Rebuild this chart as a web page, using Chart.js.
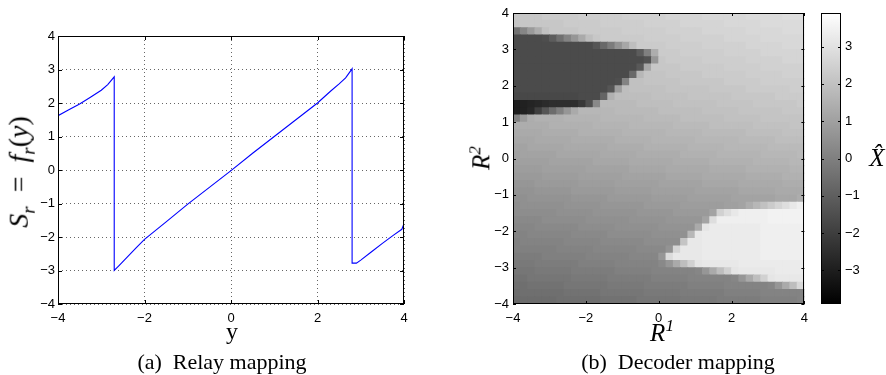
<!DOCTYPE html>
<html>
<head>
<meta charset="utf-8">
<script src="https://cdn.jsdelivr.net/npm/chart.js@4.4.0/dist/chart.umd.min.js"></script>
<style>
  html, body { margin: 0; padding: 0; background: #fff; }
  body { width: 886px; height: 375px; position: relative; overflow: hidden; font-family: "Liberation Serif", "Times New Roman", serif; color: #000; }
  canvas { position: absolute; top: 0; }
  .lbl { position: absolute; transform: translate(-50%, -50%); white-space: nowrap; line-height: 1; }
  .rot { transform: translate(-50%, -50%) rotate(-90deg); }
  .math { font-size: 25px; font-style: italic; }
  .math sub, .math sup { font-size: 17px; }
  .big { font-size: 28px; }
  .big sub { font-size: 19px; }
  .cap { font-size: 22px; }
</style>
</head>
<body>
<canvas id="relayChart" width="420" height="340" style="left:0"></canvas>
<canvas id="decoderChart" width="375" height="340" style="left:440px"></canvas>
<canvas id="colorbarChart" width="71" height="340" style="left:815px"></canvas>

<div class="lbl rot math big" style="left:21px; top:172px">S<sub>r</sub>&ensp;<span style="font-style:normal">=</span>&ensp;f<sub>r</sub><span style="font-style:normal">(</span>y<span style="font-style:normal">)</span></div>
<div class="lbl" style="left:232px; top:331px; font-size:24px">y</div>
<div class="lbl cap" style="left:222px; top:362px">(a)&ensp;Relay mapping</div>

<div class="lbl rot math" style="left:480px; top:158px">R<sup>2</sup></div>
<div class="lbl math" style="left:662px; top:331px">R<sup>1</sup></div>
<div class="lbl cap" style="left:678px; top:362px">(b)&ensp;Decoder mapping</div>
<div class="lbl math" style="left:877px; top:157px">X&#770;</div>

<script>
// (a) relay mapping
const relayX = [-4.0, -3.99, -3.75, -3.5, -3.25, -3.0, -2.85, -2.70, -2.70, -2.6, -2.4, -2.2, -2.0, -1.5, -1.0, -0.5, 0.0, 0.5, 1.0, 1.5, 2.0, 2.3, 2.5, 2.65, 2.80, 2.80, 2.9, 3.0, 3.25, 3.5, 3.75, 3.95, 4.0];
const relayS = [1.45, 1.63, 1.80, 1.97, 2.17, 2.38, 2.55, 2.78, -3.0, -2.87, -2.6, -2.33, -2.07, -1.55, -1.02, -0.52, -0.02, 0.5, 1.0, 1.5, 2.0, 2.35, 2.57, 2.75, 3.02, -2.78, -2.78, -2.69, -2.44, -2.19, -1.95, -1.77, -1.6];
const relayXTicks = [-4, -2, 0, 2, 4];
const relayYTicks = [-4, -3, -2, -1, 0, 1, 2, 3, 4];

// (b) decoder mapping, cell centres and values (X hat)
const r1Centers = [-3.9, -3.7, -3.5, -3.3, -3.1, -2.9, -2.7, -2.5, -2.3, -2.1, -1.9, -1.7, -1.5, -1.3, -1.1, -0.9, -0.7, -0.5, -0.3, -0.1,
                   0.1, 0.3, 0.5, 0.7, 0.9, 1.1, 1.3, 1.5, 1.7, 1.9, 2.1, 2.3, 2.5, 2.7, 2.9, 3.1, 3.3, 3.5, 3.7, 3.9];
const r2Centers = [3.9, 3.7, 3.5, 3.3, 3.1, 2.9, 2.7, 2.5, 2.3, 2.1, 1.9, 1.7, 1.5, 1.3, 1.1, 0.9, 0.7, 0.5, 0.3, 0.1,
                   -0.1, -0.3, -0.5, -0.7, -0.9, -1.1, -1.3, -1.5, -1.7, -1.9, -2.1, -2.3, -2.5, -2.7, -2.9, -3.1, -3.3, -3.5, -3.7, -3.9];
const decoderRows = [
  [2.2,2.2,2.2,2.2,2.3,2.3,2.3,2.3,2.3,2.4,2.4,2.4,2.4,2.4,2.4,2.5,2.5,2.5,2.5,2.5,2.5,2.6,2.6,2.6,2.6,2.6,2.7,2.7,2.7,2.7,2.7,2.7,2.8,2.8,2.8,2.8,2.8,2.9,2.9,2.9],
  [2.1,2.2,2.2,2.2,2.2,2.2,2.2,2.3,2.3,2.3,2.3,2.3,2.4,2.4,2.4,2.4,2.4,2.4,2.5,2.5,2.5,2.5,2.5,2.6,2.6,2.6,2.6,2.6,2.6,2.7,2.7,2.7,2.7,2.7,2.8,2.8,2.8,2.8,2.8,2.8],
  [-0.4,0.2,0.8,1.4,2.0,2.2,2.2,2.2,2.2,2.3,2.3,2.3,2.3,2.3,2.3,2.4,2.4,2.4,2.4,2.4,2.4,2.5,2.5,2.5,2.5,2.5,2.6,2.6,2.6,2.6,2.6,2.6,2.7,2.7,2.7,2.7,2.7,2.8,2.8,2.8],
  [-1.6,-1.6,-1.6,-1.6,-1.5,-1.1,-0.5,0.1,0.7,1.3,1.9,2.2,2.3,2.3,2.3,2.3,2.3,2.3,2.4,2.4,2.4,2.4,2.4,2.5,2.5,2.5,2.5,2.5,2.5,2.6,2.6,2.6,2.6,2.6,2.7,2.7,2.7,2.7,2.7,2.7],
  [-1.6,-1.6,-1.6,-1.6,-1.6,-1.6,-1.6,-1.6,-1.6,-1.6,-1.6,-1.3,-0.7,-0.1,0.6,1.2,1.9,2.3,2.3,2.3,2.3,2.4,2.4,2.4,2.4,2.4,2.5,2.5,2.5,2.5,2.5,2.5,2.6,2.6,2.6,2.6,2.6,2.7,2.7,2.7],
  [-1.6,-1.6,-1.6,-1.6,-1.6,-1.6,-1.6,-1.6,-1.6,-1.6,-1.6,-1.6,-1.6,-1.6,-1.6,-1.6,-1.6,-1.1,0.0,1.4,2.3,2.3,2.3,2.4,2.4,2.4,2.4,2.4,2.4,2.5,2.5,2.5,2.5,2.5,2.6,2.6,2.6,2.6,2.6,2.6],
  [-1.6,-1.6,-1.6,-1.6,-1.6,-1.6,-1.6,-1.6,-1.6,-1.6,-1.6,-1.6,-1.6,-1.6,-1.6,-1.6,-1.6,-1.6,-1.4,0.7,2.2,2.3,2.3,2.3,2.3,2.3,2.4,2.4,2.4,2.4,2.4,2.4,2.5,2.5,2.5,2.5,2.5,2.6,2.6,2.6],
  [-1.6,-1.6,-1.6,-1.6,-1.6,-1.6,-1.6,-1.6,-1.6,-1.6,-1.6,-1.6,-1.6,-1.6,-1.6,-1.6,-1.6,-1.2,1.2,2.2,2.2,2.2,2.2,2.3,2.3,2.3,2.3,2.3,2.3,2.4,2.4,2.4,2.4,2.4,2.5,2.5,2.5,2.5,2.5,2.5],
  [-1.6,-1.6,-1.6,-1.6,-1.6,-1.6,-1.6,-1.6,-1.6,-1.6,-1.6,-1.6,-1.6,-1.6,-1.6,-1.6,-0.7,1.7,2.1,2.1,2.1,2.2,2.2,2.2,2.2,2.2,2.3,2.3,2.3,2.3,2.3,2.3,2.4,2.4,2.4,2.4,2.4,2.5,2.5,2.5],
  [-1.6,-1.6,-1.6,-1.6,-1.6,-1.6,-1.6,-1.6,-1.6,-1.6,-1.6,-1.6,-1.6,-1.6,-1.5,0.1,2.0,2.0,2.1,2.1,2.1,2.1,2.1,2.2,2.2,2.2,2.2,2.2,2.2,2.3,2.3,2.3,2.3,2.3,2.4,2.4,2.4,2.4,2.4,2.4],
  [-1.6,-1.6,-1.6,-1.6,-1.6,-1.6,-1.6,-1.6,-1.6,-1.6,-1.6,-1.6,-1.6,-1.3,0.9,1.9,2.0,2.0,2.0,2.0,2.0,2.1,2.1,2.1,2.1,2.1,2.1,2.2,2.2,2.2,2.2,2.2,2.3,2.3,2.3,2.3,2.3,2.3,2.4,2.4],
  [-1.7,-1.7,-1.7,-1.7,-1.7,-1.7,-1.7,-1.7,-1.7,-1.6,-1.6,-1.6,-0.8,1.5,1.9,1.9,1.9,1.9,1.9,2.0,2.0,2.0,2.0,2.0,2.1,2.1,2.1,2.1,2.1,2.1,2.2,2.2,2.2,2.2,2.2,2.2,2.3,2.3,2.3,2.3],
  [-3.0,-2.9,-2.8,-2.7,-2.6,-2.5,-2.5,-2.5,-2.5,-2.2,-1.5,0.3,1.8,1.8,1.8,1.8,1.8,1.9,1.9,1.9,1.9,1.9,2.0,2.0,2.0,2.0,2.0,2.0,2.1,2.1,2.1,2.1,2.1,2.2,2.2,2.2,2.2,2.2,2.2,2.3],
  [-3.0,-2.9,-2.7,-2.0,-1.3,-0.6,0.0,0.7,1.3,1.7,1.7,1.7,1.7,1.7,1.8,1.8,1.8,1.8,1.8,1.8,1.9,1.9,1.9,1.9,1.9,1.9,2.0,2.0,2.0,2.0,2.0,2.1,2.1,2.1,2.1,2.1,2.1,2.2,2.2,2.2],
  [0.0,0.8,1.4,1.5,1.5,1.5,1.5,1.6,1.6,1.6,1.6,1.6,1.7,1.7,1.7,1.7,1.7,1.7,1.8,1.8,1.8,1.8,1.8,1.9,1.9,1.9,1.9,1.9,1.9,2.0,2.0,2.0,2.0,2.0,2.1,2.1,2.1,2.1,2.1,2.1],
  [1.4,1.4,1.4,1.4,1.4,1.5,1.5,1.5,1.5,1.5,1.5,1.6,1.6,1.6,1.6,1.6,1.7,1.7,1.7,1.7,1.7,1.7,1.8,1.8,1.8,1.8,1.8,1.9,1.9,1.9,1.9,1.9,1.9,2.0,2.0,2.0,2.0,2.0,2.1,2.1],
  [1.3,1.3,1.3,1.3,1.4,1.4,1.4,1.4,1.4,1.5,1.5,1.5,1.5,1.5,1.5,1.6,1.6,1.6,1.6,1.6,1.6,1.7,1.7,1.7,1.7,1.7,1.8,1.8,1.8,1.8,1.8,1.8,1.9,1.9,1.9,1.9,1.9,2.0,2.0,2.0],
  [1.2,1.2,1.2,1.3,1.3,1.3,1.3,1.3,1.4,1.4,1.4,1.4,1.4,1.4,1.5,1.5,1.5,1.5,1.5,1.6,1.6,1.6,1.6,1.6,1.6,1.7,1.7,1.7,1.7,1.7,1.7,1.8,1.8,1.8,1.8,1.8,1.9,1.9,1.9,1.9],
  [1.1,1.1,1.2,1.2,1.2,1.2,1.2,1.3,1.3,1.3,1.3,1.3,1.3,1.4,1.4,1.4,1.4,1.4,1.5,1.5,1.5,1.5,1.5,1.5,1.6,1.6,1.6,1.6,1.6,1.7,1.7,1.7,1.7,1.7,1.7,1.8,1.8,1.8,1.8,1.8],
  [1.0,1.1,1.1,1.1,1.1,1.1,1.2,1.2,1.2,1.2,1.2,1.2,1.3,1.3,1.3,1.3,1.3,1.4,1.4,1.4,1.4,1.4,1.4,1.5,1.5,1.5,1.5,1.5,1.6,1.6,1.6,1.6,1.6,1.6,1.7,1.7,1.7,1.7,1.7,1.8],
  [1.0,1.0,1.0,1.0,1.0,1.1,1.1,1.1,1.1,1.1,1.1,1.2,1.2,1.2,1.2,1.2,1.3,1.3,1.3,1.3,1.3,1.3,1.4,1.4,1.4,1.4,1.4,1.5,1.5,1.5,1.5,1.5,1.5,1.6,1.6,1.6,1.6,1.6,1.7,1.7],
  [0.9,0.9,0.9,0.9,1.0,1.0,1.0,1.0,1.0,1.0,1.1,1.1,1.1,1.1,1.1,1.1,1.2,1.2,1.2,1.2,1.2,1.3,1.3,1.3,1.3,1.3,1.3,1.4,1.4,1.4,1.4,1.4,1.5,1.5,1.5,1.5,1.5,1.5,1.6,1.6],
  [0.8,0.8,0.8,0.8,0.9,0.9,0.9,0.9,0.9,1.0,1.0,1.0,1.0,1.0,1.0,1.1,1.1,1.1,1.1,1.1,1.1,1.2,1.2,1.2,1.2,1.2,1.3,1.3,1.3,1.3,1.3,1.3,1.4,1.4,1.4,1.4,1.4,1.5,1.5,1.5],
  [0.7,0.7,0.7,0.8,0.8,0.8,0.8,0.8,0.8,0.9,0.9,0.9,0.9,0.9,1.0,1.0,1.0,1.0,1.0,1.0,1.1,1.1,1.1,1.1,1.1,1.1,1.2,1.2,1.2,1.2,1.2,1.3,1.3,1.3,1.3,1.3,1.3,1.4,1.4,1.4],
  [0.6,0.6,0.6,0.7,0.7,0.7,0.7,0.7,0.8,0.8,0.8,0.8,0.8,0.8,0.9,0.9,0.9,0.9,0.9,1.0,1.0,1.0,1.0,1.0,1.0,1.1,1.1,1.1,1.1,1.1,1.1,1.2,1.2,1.2,1.2,1.2,1.3,1.3,1.3,1.3],
  [0.5,0.5,0.6,0.6,0.6,0.6,0.6,0.6,0.7,0.7,0.7,0.7,0.7,0.8,0.8,0.8,0.8,0.8,0.8,0.9,0.9,0.9,0.9,0.9,1.0,1.0,1.0,1.0,1.0,1.0,1.1,1.1,1.1,1.1,1.1,1.1,1.2,1.2,1.2,1.4],
  [0.4,0.5,0.5,0.5,0.5,0.5,0.5,0.6,0.6,0.6,0.6,0.6,0.7,0.7,0.7,0.7,0.7,0.7,0.8,0.8,0.8,0.8,0.8,0.9,0.9,0.9,0.9,0.9,0.9,1.0,1.0,1.1,1.4,1.7,2.0,2.3,2.6,2.9,3.2,3.4],
  [0.4,0.4,0.4,0.4,0.4,0.4,0.5,0.5,0.5,0.5,0.5,0.6,0.6,0.6,0.6,0.6,0.6,0.7,0.7,0.7,0.7,0.7,0.8,0.8,0.8,0.8,0.8,1.1,2.5,2.9,3.2,3.4,3.4,3.4,3.4,3.5,3.5,3.5,3.5,3.5],
  [0.3,0.3,0.3,0.3,0.4,0.4,0.4,0.4,0.4,0.4,0.5,0.5,0.5,0.5,0.5,0.5,0.6,0.6,0.6,0.6,0.6,0.7,0.7,0.7,0.7,0.7,1.1,2.9,3.4,3.4,3.4,3.4,3.4,3.4,3.4,3.5,3.5,3.5,3.5,3.5],
  [0.2,0.2,0.2,0.3,0.3,0.3,0.3,0.3,0.3,0.4,0.4,0.4,0.4,0.4,0.5,0.5,0.5,0.5,0.5,0.5,0.6,0.6,0.6,0.6,0.6,1.3,3.1,3.3,3.3,3.3,3.3,3.3,3.3,3.3,3.4,3.4,3.4,3.4,3.4,3.4],
  [0.1,0.1,0.2,0.2,0.2,0.2,0.2,0.2,0.3,0.3,0.3,0.3,0.3,0.4,0.4,0.4,0.4,0.4,0.4,0.5,0.5,0.5,0.5,0.5,1.7,3.2,3.3,3.3,3.3,3.3,3.3,3.3,3.3,3.3,3.4,3.4,3.4,3.4,3.4,3.4],
  [0.0,0.1,0.1,0.1,0.1,0.1,0.1,0.2,0.2,0.2,0.2,0.2,0.3,0.3,0.3,0.3,0.3,0.3,0.4,0.4,0.4,0.4,0.4,2.1,3.2,3.2,3.3,3.3,3.3,3.3,3.3,3.3,3.3,3.3,3.4,3.4,3.4,3.4,3.4,3.4],
  [0.0,0.0,0.0,0.0,0.0,0.0,0.1,0.1,0.1,0.1,0.1,0.2,0.2,0.2,0.2,0.2,0.2,0.3,0.3,0.3,0.3,0.6,2.6,3.2,3.2,3.2,3.3,3.3,3.3,3.3,3.3,3.3,3.3,3.3,3.4,3.4,3.4,3.4,3.4,3.4],
  [-0.1,-0.1,-0.1,-0.1,0.0,0.0,0.0,0.0,0.0,0.0,0.1,0.1,0.1,0.1,0.1,0.1,0.2,0.2,0.2,0.2,0.7,2.8,3.2,3.2,3.2,3.2,3.3,3.3,3.3,3.3,3.3,3.3,3.3,3.3,3.4,3.4,3.4,3.4,3.4,3.4],
  [-0.2,-0.2,-0.2,-0.1,-0.1,-0.1,-0.1,-0.1,-0.1,0.0,0.0,0.0,0.0,0.0,0.1,0.1,0.1,0.1,0.1,0.1,0.3,0.7,1.3,1.9,2.5,3.1,3.2,3.2,3.2,3.2,3.2,3.3,3.3,3.3,3.3,3.3,3.3,3.3,3.3,3.3],
  [-0.3,-0.3,-0.3,-0.2,-0.2,-0.2,-0.2,-0.2,-0.1,-0.1,-0.1,-0.1,-0.1,-0.1,0.0,0.0,0.0,0.0,0.0,0.1,0.1,0.1,0.1,0.1,0.1,0.2,0.7,1.3,1.9,2.5,3.1,3.2,3.2,3.2,3.2,3.2,3.3,3.3,3.3,3.3],
  [-0.4,-0.4,-0.3,-0.3,-0.3,-0.3,-0.3,-0.3,-0.2,-0.2,-0.2,-0.2,-0.2,-0.1,-0.1,-0.1,-0.1,-0.1,-0.1,0.0,0.0,0.0,0.0,0.0,0.1,0.1,0.1,0.1,0.1,0.1,0.2,0.7,1.3,1.9,2.5,3.1,3.2,3.2,3.2,3.2],
  [-0.5,-0.5,-0.4,-0.4,-0.4,-0.4,-0.4,-0.3,-0.3,-0.3,-0.3,-0.3,-0.3,-0.2,-0.2,-0.2,-0.2,-0.2,-0.1,-0.1,-0.1,-0.1,-0.1,-0.1,0.0,0.0,0.0,0.0,0.0,0.1,0.1,0.1,0.1,0.1,0.1,0.2,0.7,1.3,1.9,2.7],
  [-0.6,-0.5,-0.5,-0.5,-0.5,-0.5,-0.5,-0.4,-0.4,-0.4,-0.4,-0.4,-0.3,-0.3,-0.3,-0.3,-0.3,-0.3,-0.2,-0.2,-0.2,-0.2,-0.2,-0.1,-0.1,-0.1,-0.1,-0.1,-0.1,0.0,0.0,0.0,0.0,0.0,0.1,0.1,0.1,0.1,0.1,0.1],
  [-0.7,-0.6,-0.6,-0.6,-0.6,-0.6,-0.5,-0.5,-0.5,-0.5,-0.5,-0.5,-0.4,-0.4,-0.4,-0.4,-0.4,-0.3,-0.3,-0.3,-0.3,-0.3,-0.3,-0.2,-0.2,-0.2,-0.2,-0.2,-0.1,-0.1,-0.1,-0.1,-0.1,-0.1,0.0,0.0,0.0,0.0,0.0,0.1]
];
const decoderTicksX = [-4, -2, 0, 2, 4];
const decoderTicksY = [-4, -3, -2, -1, 0, 1, 2, 3, 4];

// colorbar
const colorRange = [-3.9, 3.9];
const colorbarTicks = [-3, -2, -1, 0, 1, 2, 3];

Chart.defaults.font.family = "'Liberation Sans', Arial, sans-serif";
Chart.defaults.font.size = 13;
Chart.defaults.color = '#000';

function fmtTick(v) {
    return v < 0 ? '\u2212' + Math.abs(v) : String(v);
}

function grayFor(v) {
    const t = Math.min(1, Math.max(0, (v - colorRange[0]) / (colorRange[1] - colorRange[0])));
    const g = Math.round(t * 255);
    return `rgb(${g},${g},${g})`;
}

// box around the plot area plus short inward ticks, MATLAB style
const frameTicks = {
    id: 'frameTicks',
    afterDraw(chart, args, opts) {
        const { ctx, chartArea: a, scales } = chart;
        const len = opts.len || 4;
        ctx.save();
        ctx.strokeStyle = '#000';
        ctx.lineWidth = 1;
        ctx.beginPath();
        if (opts.x) {
            scales.x.ticks.forEach(t => {
                const px = Math.round(scales.x.getPixelForValue(t.value)) + 0.5;
                ctx.moveTo(px, a.bottom); ctx.lineTo(px, a.bottom - len);
                ctx.moveTo(px, a.top); ctx.lineTo(px, a.top + len);
            });
        }
        if (opts.y) {
            scales.y.ticks.forEach(t => {
                const py = Math.round(scales.y.getPixelForValue(t.value)) + 0.5;
                ctx.moveTo(a.left, py); ctx.lineTo(a.left + len, py);
                ctx.moveTo(a.right, py); ctx.lineTo(a.right - len, py);
            });
        }
        ctx.stroke();
        ctx.strokeRect(Math.round(a.left) + 0.5, Math.round(a.top) + 0.5,
            Math.round(a.right - a.left) - 1, Math.round(a.bottom - a.top) - 1);
        ctx.restore();
    }
};

const fixedTicks = list => scale => { scale.ticks = list.map(v => ({ value: v })); };

// (a) Relay mapping
new Chart(document.getElementById('relayChart'), {
    type: 'scatter',
    data: {
        datasets: [{
            data: relayX.map((x, i) => ({ x: x, y: relayS[i] })),
            showLine: true,
            borderColor: '#0000ff',
            borderWidth: 1.1,
            pointRadius: 0,
            tension: 0
        }]
    },
    options: {
        responsive: false,
        animation: false,
        events: [],
        layout: { padding: { left: 0, right: 16, top: 36, bottom: 0 } },
        plugins: { legend: { display: false }, tooltip: { enabled: false }, frameTicks: { len: 4, x: true, y: true } },
        scales: {
            x: {
                type: 'linear', min: -4, max: 4,
                afterBuildTicks: fixedTicks(relayXTicks),
                afterFit: s => { s.height = 36; },
                grid: { color: 'rgba(0,0,0,0.6)', lineWidth: 1, drawTicks: false },
                border: { display: false, dash: [1, 3] },
                ticks: { padding: 7, callback: fmtTick, maxRotation: 0 }
            },
            y: {
                type: 'linear', min: -4, max: 4,
                afterBuildTicks: fixedTicks(relayYTicks),
                afterFit: s => { s.width = 58; },
                grid: { color: 'rgba(0,0,0,0.6)', lineWidth: 1, drawTicks: false },
                border: { display: false, dash: [1, 3] },
                ticks: { padding: 3, callback: fmtTick }
            }
        }
    },
    plugins: [frameTicks]
});

// (b) Decoder mapping, one square point per cell
const cells = [];
decoderRows.forEach((row, k) => {
    row.forEach((v, c) => cells.push({ x: r1Centers[c], y: r2Centers[k], v: v }));
});

function cellRadius(ctx) {
    const a = ctx.chart.chartArea;
    if (!a) return 5;
    const cw = (a.right - a.left) / r1Centers.length;
    const ch = (a.bottom - a.top) / r2Centers.length;
    return (Math.max(cw, ch) + 0.8) / Math.SQRT2;
}

new Chart(document.getElementById('decoderChart'), {
    type: 'scatter',
    data: {
        datasets: [{
            data: cells,
            pointStyle: 'rect',
            pointRadius: cellRadius,
            pointHoverRadius: cellRadius,
            pointBorderWidth: 0,
            pointBackgroundColor: ctx => grayFor(ctx.raw.v)
        }]
    },
    options: {
        responsive: false,
        animation: false,
        events: [],
        layout: { padding: { left: 0, right: 9, top: 13, bottom: 0 } },
        plugins: { legend: { display: false }, tooltip: { enabled: false }, frameTicks: { len: 3, x: true, y: true } },
        scales: {
            x: {
                type: 'linear', min: -4, max: 4,
                afterBuildTicks: fixedTicks(decoderTicksX),
                afterFit: s => { s.height = 36; },
                grid: { display: false, drawTicks: false },
                border: { display: false },
                ticks: { padding: 7, callback: fmtTick, maxRotation: 0 }
            },
            y: {
                type: 'linear', min: -4, max: 4,
                afterBuildTicks: fixedTicks(decoderTicksY),
                afterFit: s => { s.width = 73; },
                grid: { display: false, drawTicks: false },
                border: { display: false },
                ticks: { padding: 4, callback: fmtTick }
            }
        }
    },
    plugins: [frameTicks]
});

// colorbar
new Chart(document.getElementById('colorbarChart'), {
    type: 'bar',
    data: {
        labels: [''],
        datasets: [{
            data: [colorRange],
            barPercentage: 1,
            categoryPercentage: 1,
            borderWidth: 0,
            backgroundColor: ctx => {
                const a = ctx.chart.chartArea;
                if (!a) return '#888';
                const grd = ctx.chart.ctx.createLinearGradient(0, a.bottom, 0, a.top);
                grd.addColorStop(0, '#000');
                grd.addColorStop(1, '#fff');
                return grd;
            }
        }]
    },
    options: {
        responsive: false,
        animation: false,
        events: [],
        layout: { padding: { left: 6, right: 0, top: 13, bottom: 36 } },
        plugins: { legend: { display: false }, tooltip: { enabled: false }, frameTicks: { len: 3, x: false, y: true } },
        scales: {
            x: { display: false },
            y: {
                position: 'right',
                min: colorRange[0], max: colorRange[1],
                afterBuildTicks: fixedTicks(colorbarTicks),
                afterFit: s => { s.width = 45; },
                grid: { display: false, drawTicks: false },
                border: { display: false },
                ticks: { padding: 4, callback: fmtTick }
            }
        }
    },
    plugins: [frameTicks]
});
</script>
</body>
</html>
